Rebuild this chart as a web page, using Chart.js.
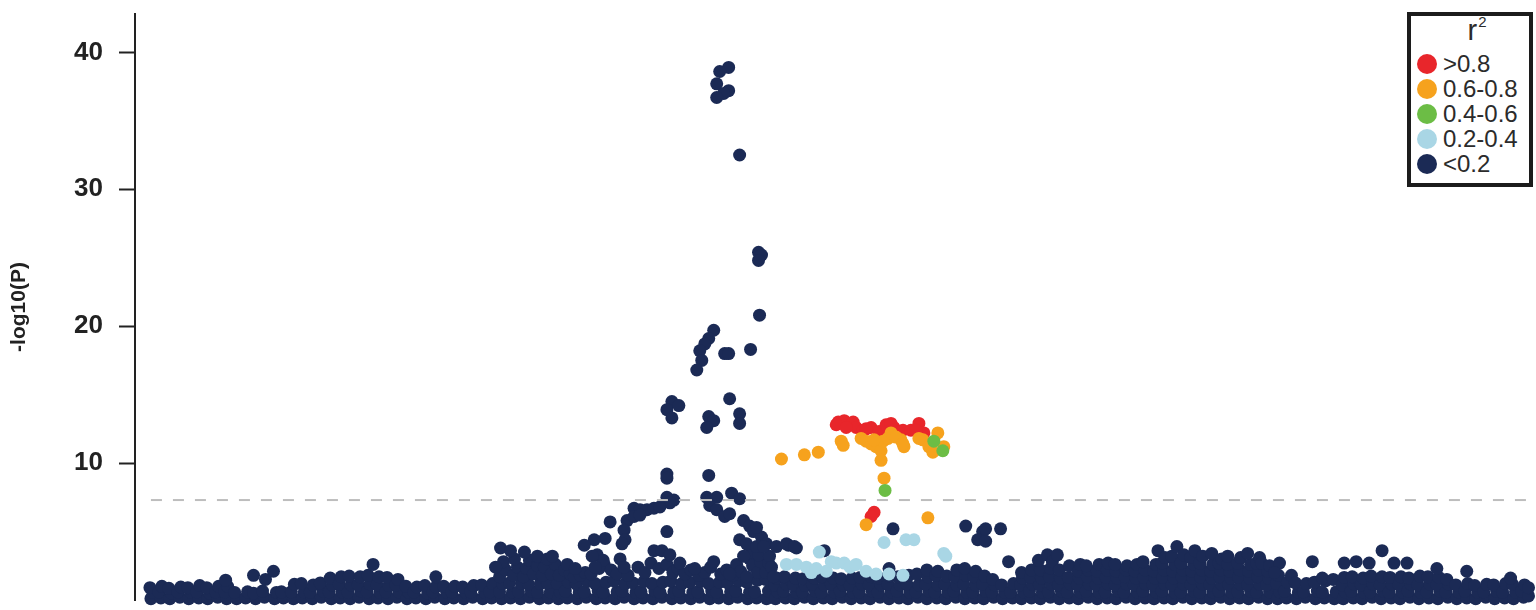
<!DOCTYPE html>
<html>
<head>
<meta charset="utf-8">
<script src="https://cdn.jsdelivr.net/npm/chart.js@4.4.1/dist/chart.umd.min.js"></script>
<style>
html,body{margin:0;padding:0;background:#fff;}
#wrap{position:relative;width:1536px;height:610px;overflow:hidden;}
#legend{position:absolute;left:1407px;top:12px;width:118px;height:167px;border:4px solid #1c1c1c;background:#fff;font-family:'Liberation Sans',Arial,sans-serif;color:#2b2b2b;}
#legend .ttl{position:absolute;left:0;top:-2px;width:118px;text-align:center;font-size:29px;line-height:32px;padding-left:14px;box-sizing:border-box;}
#legend .ttl sup{font-size:15px;vertical-align:13px;line-height:0;margin-left:1px;}
#legend .row{position:absolute;left:6px;height:25px;display:flex;align-items:center;font-size:24px;line-height:25px;white-space:nowrap;}
#legend .dot{width:20px;height:20px;border-radius:50%;margin-right:6px;flex:none;}
</style>
</head>
<body>
<div id="wrap">
<canvas id="c" width="1536" height="610"></canvas>
<div id="legend"></div>
</div>
<script>
// ---- data (position in kb, -log10 P) ----
const r2Labels = ['>0.8', '0.6-0.8', '0.4-0.6', '0.2-0.4', '<0.2'];
const yTickValues = [10, 20, 30, 40];
const gwsThreshold = 7.3;
const xRangeKb = [0, 1400];
const yRange = [0, 42.8];

const snpsRed = [
[706,13.0],[712,13.1],[721,13.0],[724,12.6],[731,12.4],[739,12.6],[747,12.3],[754,12.8],[762,12.6],[771,12.4],
[779,12.4],[787,12.9],[792,12.2],[704,12.8],[714,12.6],[734,12.5],[759,12.9],[784,12.4],[742,6.4],[739,6.1]
];
const snpsOrange = [
[709,11.6],[711,11.3],[729,11.8],[734,11.6],[739,11.4],[744,11.2],[749,10.9],[751,11.6],[756,11.8],[759,12.2],
[749,10.2],[769,11.7],[772,11.2],[791,11.7],[797,11.2],[801,10.8],[806,12.2],[812,11.2],[742,11.7],[764,11.9],
[771,11.4],[787,11.8],[649,10.3],[672,10.6],[686,10.8],[752,8.9],[734,5.5],[796,6.0]
];
const snpsGreen = [[802,11.6],[811,10.9],[753,8.0]];
const snpsLightBlue = [
[687,3.5],[654,2.6],[664,2.6],[674,2.4],[679,2.0],[684,2.3],[694,2.1],[699,2.8],[704,2.7],[712,2.7],[718,2.4],
[724,2.6],[734,2.1],[744,1.9],[757,1.9],[771,1.8],[752,4.2],[774,4.4],[782,4.4],[812,3.4],[814,3.2]
];
const snpsNavyPeak = [
[596,38.9],[587,38.6],[584,37.7],[596,37.2],[591,37.0],[584,36.7],[607,32.5],[626,25.4],[629,25.2],[626,24.8],
[627,20.8],[581,19.7],[576,19.1],[572,18.7],[567,18.2],[569,17.5],[564,16.8],[592,18.0],[596,18.0],[618,18.3],
[539,14.5],[546,14.2],[534,13.9],[539,13.3],[576,13.4],[581,13.1],[574,12.6],[597,14.7],[607,13.6],[607,12.9],
[534,9.2],[534,8.9],[576,9.1],[534,7.5],[541,7.3],[537,7.1],[574,7.5],[584,7.5],[599,7.8],[607,7.4],
[577,6.9],[584,6.6],[592,6.1],[597,6.3],[611,5.8],[617,5.4],[621,5.0],[501,6.7],[507,6.6],[514,6.6],
[521,6.7],[527,6.8],[494,5.8],[501,6.1],[507,6.2],[477,5.7],[491,5.1],[492,4.4],[472,4.5],[461,4.4],
[451,4.0],[489,4.1],[534,5.0],[521,3.6],[529,3.6],[537,3.3],[547,2.7],[459,3.2],[462,2.4],[487,3.0],
[491,2.4],[367,3.8],[377,3.6],[391,3.5],[404,3.2],[414,3.0],[419,3.2],[362,2.4],[434,2.6],[442,2.3],
[562,2.3],[607,4.4],[614,4.1],[624,3.9],[629,4.6],[634,4.1],[624,5.3],[611,3.2],[614,1.7],[597,1.9],
[581,2.8],[637,3.2],[639,2.4],[641,1.7],[644,3.9],[656,4.0],[664,3.8],[654,4.1],[662,3.9],[631,3.9]
];
const snpsNavyPeakBase = [
[366,1.7],[372,2.2],[370,2.8],[380,1.8],[384,2.4],[381,3.0],[390,1.7],[393,2.3],[396,2.9],[400,1.9],
[404,2.5],[409,1.8],[411,2.4],[418,1.9],[422,2.6],[426,1.8],[431,2.2],[437,1.9],[441,1.7],[447,1.8],
[452,2.0],[458,1.9],[466,2.3],[471,2.6],[464,3.3],[470,2.9],[478,2.2],[484,1.9],[495,1.8],[505,2.4],
[512,2.0],[518,2.7],[526,2.3],[534,2.6],[540,2.0],[545,2.3],[552,1.9],[558,2.2],[566,1.8],[572,2.0],
[578,2.4],[588,1.9],[594,2.2],[600,1.8],[604,2.6],[608,2.1],[617,3.0],[620,2.5],[625,2.0],[628,2.8],
[633,2.0],[636,2.7],[619,3.5],[626,3.3]
];
const snpsNavyEast = [
[761,5.2],[834,5.4],[851,5.0],[854,5.2],[846,4.4],[854,4.3],[869,5.2],[877,2.8],[692,3.6],[757,2.3]
];
const snpsNavyBand = [
[16,0.1],[18,0.55],[15,0.9],[26,0.15],[24,0.6],[27,1.0],[35,0.1],[37,0.5],[34,0.85],[45,0.2],[43,0.6],[46,0.95],
[54,0.1],[56,0.55],[53,0.9],[64,0.15],[62,0.6],[65,1.05],[73,0.1],[75,0.5],[72,0.9],[83,0.2],[81,0.6],[84,1.0],
[92,0.1],[90,0.6],[93,1.0],[91,1.45],
[102,0.1],[100,0.55],[111,0.15],[113,0.6],[121,0.1],[119,0.5],[130,0.2],[128,0.65],[140,0.1],[142,0.55],[149,0.15],[147,0.6],
[119,1.8],[131,1.5],[139,2.1],
[159,0.1],[157,0.6],[160,1.15],[168,0.15],[170,0.6],[167,1.2],[178,0.1],[176,0.55],[179,1.1],[187,0.2],[189,0.65],[186,1.25],
[197,0.1],[195,0.6],[198,1.1],[196,1.6],[206,0.15],[208,0.6],[205,1.15],[207,1.7],[216,0.1],[214,0.55],[217,1.1],[215,1.75],
[225,0.2],[227,0.65],[224,1.1],[226,1.7],[235,0.1],[233,0.6],[236,1.15],[234,1.8],[239,2.6],[244,0.15],[246,0.55],[243,1.1],
[245,1.7],[254,0.1],[252,0.6],[255,1.05],[253,1.65],[263,0.2],[265,0.6],[262,1.1],[264,1.5],
[273,0.1],[275,0.55],[272,1.0],[282,0.15],[280,0.6],[283,0.95],[292,0.1],[294,0.5],[291,1.05],[301,0.2],[299,0.6],[302,0.95],
[311,0.1],[313,0.55],[310,1.0],[302,1.7],[320,0.15],[318,0.6],[321,1.0],[330,0.1],[332,0.55],[329,0.95],[339,0.2],[337,0.6],
[340,1.05],[349,0.1],[351,0.55],[348,1.1],[358,0.15],[356,0.6],[359,1.2],
[368,0.1],[366,0.6],[369,1.2],[377,0.15],[379,0.55],[376,1.25],[387,0.1],[385,0.6],[388,1.2],[396,0.2],[398,0.65],[395,1.15],
[406,0.1],[404,0.55],[407,1.2],[415,0.15],[417,0.6],[414,1.25],
[425,0.1],[427,0.6],[424,1.2],[434,0.15],[432,0.65],[435,1.3],[444,0.1],[446,0.55],[443,1.15],[453,0.2],[451,0.6],[454,1.35],
[463,0.1],[465,0.65],[462,1.2],[472,0.15],[470,0.55],[473,1.3],[482,0.1],[484,0.6],[481,1.4],[491,0.2],[489,0.65],[492,1.2],
[501,0.1],[503,0.55],[500,1.25],[510,0.15],[508,0.6],[511,1.35],[520,0.1],[522,0.65],[519,1.2],[529,0.2],[527,0.55],[530,1.3],
[539,0.1],[541,0.6],[538,1.4],[548,0.15],[546,0.65],[549,1.2],[558,0.1],[560,0.55],[557,1.3],[567,0.2],[565,0.6],[568,1.35],
[577,0.1],[579,0.65],[576,1.2],[586,0.15],[584,0.55],[587,1.3],[596,0.1],[598,0.6],[595,1.25],[605,0.2],[603,0.65],[606,1.4],
[615,0.1],[617,0.55],[614,1.3],[624,0.15],[622,0.6],[625,1.45],[634,0.1],[636,0.65],[633,1.5],
[643,0.1],[645,0.6],[642,1.1],[644,1.6],[653,0.15],[651,0.65],[654,1.15],[652,1.7],[662,0.1],[664,0.55],[661,1.1],[663,1.6],
[672,0.2],[670,0.6],[673,1.05],[671,1.55],[681,0.1],[683,0.65],[680,1.15],[682,1.6],[691,0.15],[689,0.55],[692,1.1],[690,1.7],
[700,0.1],[702,0.6],[699,1.15],[701,1.6],[710,0.2],[708,0.65],[711,1.1],[709,1.55],[719,0.1],[721,0.55],[718,1.05],[720,1.6],
[729,0.15],[727,0.6],[730,1.15],[728,1.65],[738,0.1],[740,0.65],[737,1.1],[739,1.7],[748,0.2],[746,0.55],[749,1.1],[747,1.6],
[757,0.1],[759,0.6],[756,1.15],[758,1.75],[767,0.15],[765,0.65],[768,1.1],[766,1.7],[776,0.1],[778,0.55],[775,1.15],[777,1.8],
[786,0.2],[784,0.6],[787,1.1],[785,1.9],[795,0.1],[797,0.65],[794,1.15],[796,1.7],[795,2.2],[805,0.15],[803,0.55],[806,1.1],
[804,1.8],[806,2.1],[814,0.1],[816,0.6],[813,1.15],[815,1.75],[824,0.2],[822,0.65],[825,1.1],[823,1.7],[825,2.2],
[833,0.1],[835,0.55],[832,1.15],[834,1.8],[833,2.3],[843,0.15],[841,0.6],[844,1.1],[842,1.7],[844,2.1],
[852,0.1],[854,0.65],[851,1.15],[853,1.75],[862,0.2],[860,0.6],[863,1.1],[861,1.5],
[871,0.1],[873,0.6],[870,1.1],[881,0.15],[879,0.55],[882,1.2],
[890,0.1],[892,0.6],[889,1.1],[891,1.6],[890,2.0],[900,0.15],[898,0.65],[901,1.15],[899,1.65],[900,2.2],
[909,0.1],[911,0.55],[908,1.1],[910,1.6],[909,2.2],[907,2.9],[919,0.2],[917,0.6],[920,1.15],[918,1.7],[919,2.3],[916,3.3],[921,2.8],
[928,0.1],[930,0.65],[927,1.1],[929,1.6],[928,2.2],[926,3.3],[938,0.15],[936,0.55],[939,1.15],[937,1.65],[938,2.5],
[947,0.1],[949,0.6],[946,1.1],[948,1.6],[947,2.1],[949,2.6],[957,0.2],[955,0.65],[958,1.15],[956,1.7],[957,2.2],[955,2.5],
[966,0.1],[968,0.55],[965,1.1],[967,1.6],[966,2.1],[968,2.6],[976,0.15],[974,0.6],[977,1.15],[975,1.65],[976,2.2],[977,2.7],
[985,0.1],[987,0.65],[984,1.1],[986,1.6],[985,2.1],[984,2.6],[995,0.2],[993,0.55],[996,1.15],[994,1.7],[995,2.2],[996,2.5],
[1004,0.1],[1006,0.6],[1003,1.1],[1005,1.6],[1004,2.1],[1006,2.6],[1014,0.15],[1012,0.65],[1015,1.15],[1013,1.65],[1014,2.2],[1012,2.8],
[1023,0.1],[1025,0.6],[1022,1.1],[1024,1.6],[1023,2.1],[1025,2.6],[1027,3.6],
[1033,0.15],[1031,0.65],[1034,1.15],[1032,1.65],[1033,2.2],[1031,2.7],[1034,3.1],
[1042,0.1],[1044,0.55],[1041,1.1],[1043,1.6],[1042,2.1],[1044,2.6],[1041,3.2],
[1052,0.2],[1050,0.6],[1053,1.15],[1051,1.7],[1052,2.2],[1050,2.7],[1046,3.9],[1053,3.3],
[1061,0.1],[1063,0.65],[1060,1.1],[1062,1.6],[1061,2.1],[1063,2.6],[1060,3.1],
[1071,0.15],[1069,0.55],[1072,1.15],[1070,1.65],[1071,2.2],[1069,2.7],[1064,3.6],[1072,3.2],
[1080,0.1],[1082,0.6],[1079,1.1],[1081,1.6],[1080,2.1],[1082,2.6],[1081,3.4],
[1090,0.2],[1088,0.65],[1091,1.15],[1089,1.7],[1090,2.2],[1088,2.7],[1091,3.0],
[1099,0.1],[1101,0.55],[1098,1.1],[1100,1.6],[1099,2.1],[1097,2.6],[1097,3.2],
[1109,0.15],[1107,0.6],[1110,1.15],[1108,1.65],[1109,2.2],[1107,2.7],[1110,3.1],
[1118,0.1],[1120,0.65],[1117,1.1],[1119,1.6],[1118,2.1],[1120,2.6],[1117,3.4],
[1128,0.2],[1126,0.55],[1129,1.15],[1127,1.7],[1128,2.2],[1126,2.7],[1129,3.1],
[1137,0.1],[1139,0.6],[1136,1.1],[1138,1.6],[1137,2.1],[1131,2.7],[1139,2.5],
[1147,0.1],[1149,0.6],[1146,1.2],[1148,1.8],[1149,2.7],[1144,2.0],[1156,0.15],[1154,0.65],[1157,1.3],[1161,1.8],
[1166,0.1],[1168,0.55],[1165,1.25],[1175,0.2],[1173,0.6],[1176,1.2],[1185,0.1],[1187,0.65],[1184,1.3],[1182,2.8],
[1194,0.15],[1192,0.55],[1195,1.4],[1192,1.6],[1204,0.1],[1206,0.6],[1203,1.5],
[1213,0.1],[1215,0.6],[1212,1.1],[1214,1.65],[1214,2.7],[1223,0.15],[1221,0.65],[1224,1.15],[1222,1.7],[1226,2.8],
[1232,0.1],[1234,0.55],[1231,1.1],[1233,1.6],[1242,0.2],[1240,0.6],[1243,1.15],[1241,1.75],[1239,2.7],
[1251,0.1],[1253,0.65],[1250,1.1],[1252,1.7],[1252,3.6],[1261,0.15],[1259,0.55],[1262,1.15],[1260,1.65],[1264,2.7],
[1270,0.1],[1272,0.6],[1269,1.1],[1271,1.7],[1277,2.7],[1280,0.2],[1278,0.65],[1281,1.15],[1279,1.6],
[1289,0.1],[1291,0.55],[1288,1.1],[1290,1.75],[1299,0.15],[1297,0.6],[1300,1.15],[1298,1.7],
[1308,0.1],[1310,0.65],[1307,1.1],[1309,1.65],[1307,2.3],[1318,0.2],[1316,0.55],[1319,1.15],[1317,1.5],
[1327,0.1],[1329,0.6],[1326,1.1],[1337,0.15],[1335,0.65],[1338,1.2],[1337,2.1],[1346,0.1],[1348,0.55],[1345,1.05],
[1356,0.2],[1354,0.6],[1357,1.15],[1365,0.1],[1367,0.65],[1364,1.1],[1375,0.15],[1373,0.55],[1376,1.2],
[1384,0.1],[1386,0.6],[1383,1.15],[1381,1.6],[1394,0.2],[1392,0.65],[1395,1.1],[1399,0.3],[1399,0.9]
];

// ---- chart ----
const toXY = arr => arr.map(p => ({ x: p[0], y: p[1] }));
const FONT = "'Liberation Sans', Arial, Helvetica, sans-serif";
const colors = ['#e8262b', '#f6a21d', '#6cbd45', '#a9d6e5', '#1b2a55'];
const classData = [snpsRed, snpsOrange, snpsGreen, snpsLightBlue,
  snpsNavyBand.concat(snpsNavyPeakBase, snpsNavyPeak, snpsNavyEast)];
const drawOrder = [3, 2, 1, 4, 5];

const datasets = classData.map((d, i) => ({
  type: 'scatter',
  label: r2Labels[i],
  data: toXY(d),
  backgroundColor: colors[i],
  borderWidth: 0,
  pointRadius: 6.5,
  pointHoverRadius: 6.5,
  clip: false,
  order: drawOrder[i]
}));
datasets.push({
  type: 'line',
  label: 'threshold',
  data: [{ x: 16, y: gwsThreshold }, { x: xRangeKb[1], y: gwsThreshold }],
  borderColor: '#bdbdbd',
  borderWidth: 2,
  borderDash: [11, 11],
  pointRadius: 0,
  fill: false,
  clip: false,
  order: 0
});

const chart = new Chart(document.getElementById('c'), {
  type: 'scatter',
  data: { datasets },
  options: {
    responsive: false,
    animation: false,
    events: [],
    layout: { padding: { top: 14, bottom: 10, left: 0, right: 0 } },
    plugins: { legend: { display: false }, tooltip: { enabled: false } },
    scales: {
      x: { type: 'linear', display: false, min: xRangeKb[0], max: xRangeKb[1] },
      y: {
        type: 'linear',
        min: yRange[0], max: yRange[1],
        afterFit: s => { s.width = 135; s.paddingTop = 0; s.paddingBottom = 0; },
        afterBuildTicks: s => { s.ticks = yTickValues.map(v => ({ value: v })); },
        border: { display: true, color: '#222', width: 2 },
        grid: { drawOnChartArea: false, drawTicks: true, tickLength: 16, tickWidth: 2, tickColor: '#222' },
        ticks: { color: '#222', padding: 16, font: { family: FONT, size: 26, weight: 'bold' } },
        title: { display: true, text: '-log10(P)', color: '#222',
                 font: { family: FONT, size: 21, weight: 'bold' }, padding: { top: 7, bottom: 0 } }
      }
    }
  }
});

// ---- legend (HTML, built from the chart's datasets) ----
const lg = document.getElementById('legend');
const t = document.createElement('div');
t.className = 'ttl';
t.innerHTML = 'r<sup>2</sup>';
lg.appendChild(t);
chart.data.datasets.filter(d => d.type === 'scatter').forEach((d, i) => {
  const row = document.createElement('div');
  row.className = 'row';
  row.style.top = (35 + i * 25) + 'px';
  const dot = document.createElement('span');
  dot.className = 'dot';
  dot.style.background = d.backgroundColor;
  const txt = document.createElement('span');
  txt.textContent = d.label;
  row.appendChild(dot);
  row.appendChild(txt);
  lg.appendChild(row);
});
</script>
</body>
</html>
